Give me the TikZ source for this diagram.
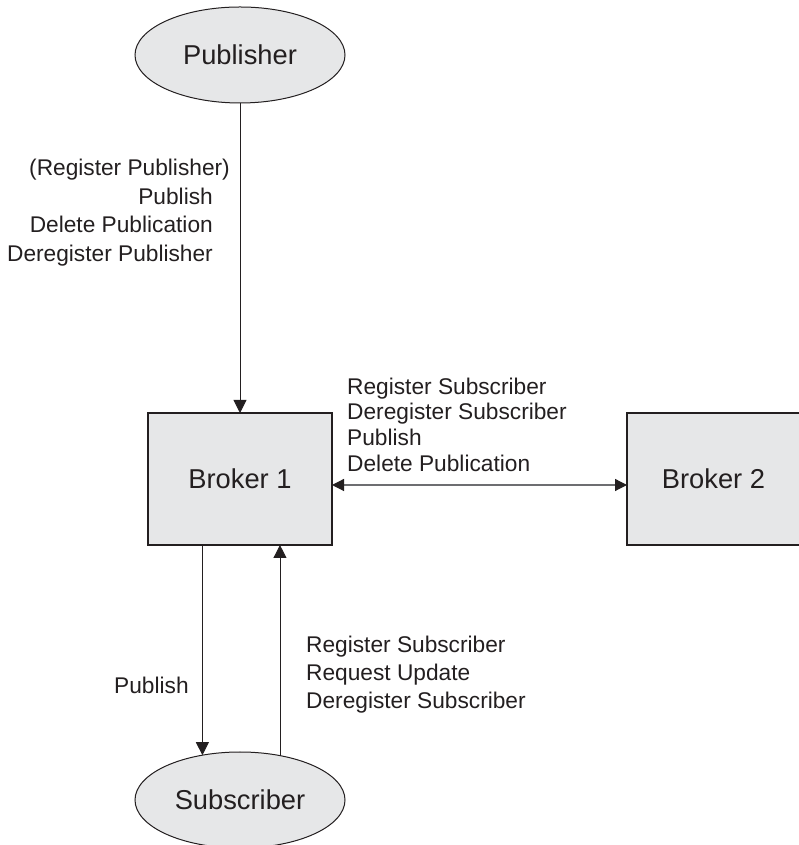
\documentclass[tikz,border=0pt]{standalone}
\usepackage{fontspec}
\setmainfont{Liberation Sans}
\usetikzlibrary{shapes.geometric,arrows.meta}

\definecolor{boxgray}{HTML}{E6E7E8}
\definecolor{inkgray}{HTML}{231F20}
\definecolor{linkgray}{HTML}{6D6E71}

\begin{document}
\begin{tikzpicture}[x=1pt, y=1pt,
  client/.style={ellipse, draw=inkgray, line width=1pt, fill=boxgray, minimum width=210pt, minimum height=96pt, inner sep=0pt, outer sep=0pt, text=inkgray, font=\fontsize{27.3}{32}\selectfont},
  broker/.style={rectangle, draw=inkgray, line width=1.2pt, fill=boxgray, minimum width=184pt, minimum height=132pt, inner sep=0pt, outer sep=0pt, text=inkgray, font=\fontsize{27.3}{32}\selectfont},
  msgs/.style={inner sep=0pt, text=inkgray},
  flow/.style={draw=inkgray, line width=0.9pt, -{Triangle[width=13pt,length=13pt]}},
  link/.style={draw=linkgray, line width=1.2pt, {Triangle[width=12pt,length=12pt,color=inkgray]}-{Triangle[width=12pt,length=12pt,color=inkgray]}}]

\useasboundingbox (0,0) rectangle (799,845);

\node[client] (P) at (240,790) {Publisher};
\node[client] (S) at (240,45) {Subscriber};
\node[broker] (B1) at (240,366) {Broker 1};
\node[broker, minimum width=173pt] (B2) at (713.5,366) {Broker 2};

\draw[flow] (P.south) -- (B1.north);
\draw[link] ([yshift=-6pt]B1.east) -- ([yshift=-6pt]B2.west);
\draw[flow] (S.130 |- B1.south) -- (S.130);
\draw[flow] (S.48) -- (S.48 |- B1.south);

\node[msgs, anchor=east, align=right, font=\fontsize{22.7}{28.5}\selectfont] (pubops) at (213,632.5) {(Register Publisher)\hspace*{-17pt}\\Publish\\Delete Publication\\Deregister Publisher};
\node[msgs, anchor=west, align=left, font=\fontsize{22.7}{25.7}\selectfont] (brops) at (347,420.5) {Register Subscriber\\Deregister Subscriber\\Publish\\Delete Publication};
\node[msgs, anchor=west, align=left, font=\fontsize{22.7}{28}\selectfont] (subops) at (306,170) {Register Subscriber\\Request Update\\Deregister Subscriber};
\node[msgs, anchor=west, font=\fontsize{22.7}{28}\selectfont] (pubmsg) at (114,160) {Publish};

\end{tikzpicture}
\end{document}
